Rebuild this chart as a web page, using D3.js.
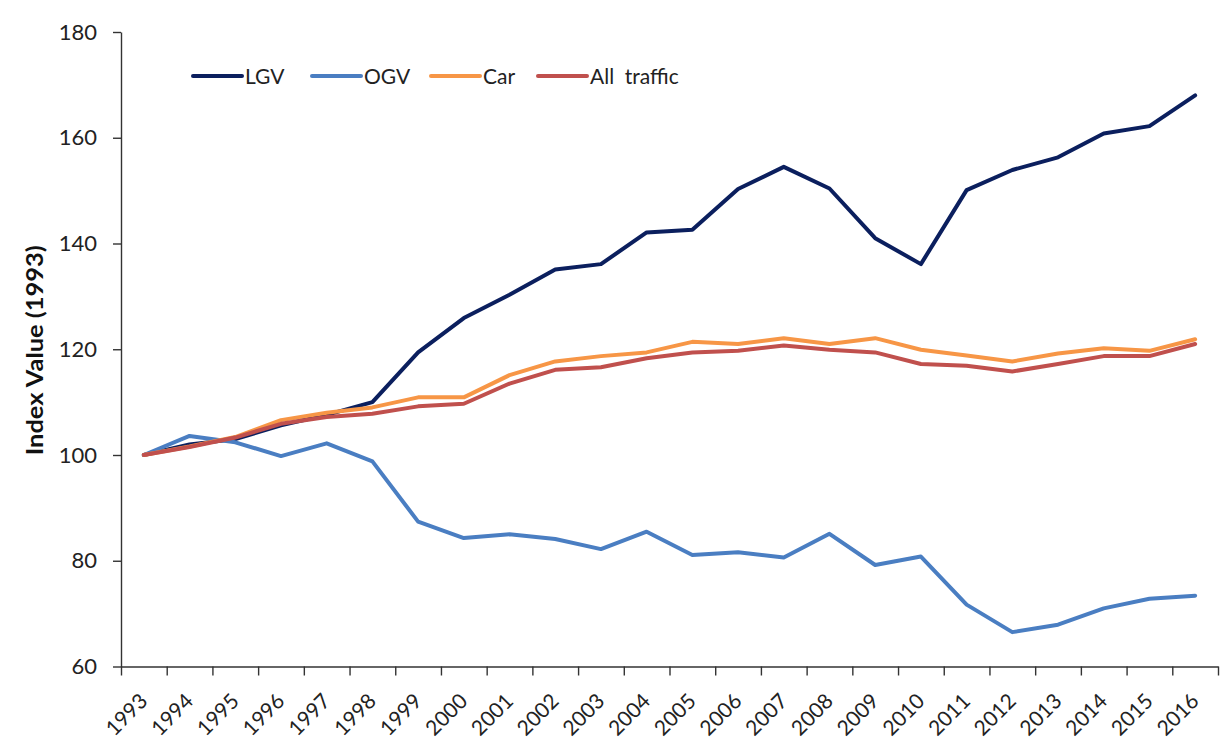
<!DOCTYPE html>
<html>
<head>
<meta charset="utf-8">
<script src="https://cdn.jsdelivr.net/npm/d3@7"></script>
<style>
  html, body { margin: 0; padding: 0; background: #fff; }
  svg { display: block; font-family: Lato, "Open Sans", sans-serif; }
</style>
</head>
<body>
<svg id="chart" width="1230" height="754"></svg>
<script>
// Traffic index by vehicle type, 1993 = 100
const years = ["1993","1994","1995","1996","1997","1998","1999","2000","2001","2002","2003","2004",
               "2005","2006","2007","2008","2009","2010","2011","2012","2013","2014","2015","2016"];

const lgv = [100, 102.0, 103.0, 105.6, 107.6, 110.0, 119.4, 125.9, 130.3, 135.1, 136.1, 142.1,
             142.6, 150.3, 154.5, 150.4, 141.0, 136.1, 150.1, 153.9, 156.3, 160.8, 162.2, 168.0];
const ogv = [100, 103.6, 102.4, 99.8, 102.2, 98.8, 87.4, 84.3, 85.0, 84.1, 82.2, 85.5,
             81.1, 81.6, 80.6, 85.1, 79.2, 80.8, 71.7, 66.5, 67.9, 71.0, 72.8, 73.4];
const car = [100, 101.6, 103.4, 106.6, 108.0, 109.0, 110.9, 110.9, 115.1, 117.7, 118.7, 119.4,
             121.4, 121.0, 122.1, 121.0, 122.1, 119.9, 118.8, 117.7, 119.2, 120.2, 119.7, 121.9];
const allTraffic = [100, 101.5, 103.3, 105.9, 107.2, 107.8, 109.2, 109.7, 113.5, 116.1, 116.6, 118.3,
                    119.4, 119.7, 120.7, 119.9, 119.4, 117.2, 116.9, 115.8, 117.2, 118.7, 118.7, 121.0];

const seriesNames = ["LGV", "OGV", "Car", "All  traffic"];
const seriesColors = ["#0b1f5e", "#4a7ec2", "#f79646", "#c0504d"];
const seriesValues = [lgv, ogv, car, allTraffic];

const yTicks = [60, 80, 100, 120, 140, 160, 180];
const yTitle = "Index Value (1993)";

const svg = d3.select("#chart");
const plotLeft = 121, plotRight = 1218, plotTop = 32, plotBottom = 666.5;
const tickFontSize = 22;
const legendFontSize = 21;

const x = d3.scaleBand().domain(years).range([plotLeft, plotRight]).padding(0);
const xEdges = d3.scaleLinear().domain([0, years.length]).range([plotLeft, plotRight]);
const y = d3.scaleLinear().domain([60, 180]).range([plotBottom, plotTop]);

// Y axis
const yAxis = svg.append("g")
  .attr("transform", `translate(${plotLeft},0)`)
  .call(d3.axisLeft(y).tickValues(yTicks).tickSize(8).tickSizeOuter(0).tickPadding(16));
yAxis.select(".domain").attr("stroke", "#333").attr("stroke-width", 1.4);
yAxis.selectAll(".tick line").attr("stroke", "#333").attr("stroke-width", 1.4);
yAxis.selectAll(".tick text").attr("font-size", tickFontSize).attr("fill", "#222")
  .attr("font-family", "Lato, sans-serif");

// X axis: ticks at category boundaries
const xAxis = svg.append("g")
  .attr("transform", `translate(0,${plotBottom})`)
  .call(d3.axisBottom(xEdges).tickValues(d3.range(years.length + 1)).tickFormat("")
        .tickSize(9).tickSizeOuter(0));
xAxis.select(".domain").attr("stroke", "#333").attr("stroke-width", 1.4);
xAxis.selectAll(".tick line").attr("stroke", "#333").attr("stroke-width", 1.4);

// X labels, rotated
const xLabels = svg.append("g")
  .attr("transform", `translate(0,${plotBottom})`)
  .call(d3.axisBottom(x).tickSize(0).tickPadding(0));
xLabels.select(".domain").remove();
xLabels.selectAll(".tick text")
  .attr("font-size", tickFontSize - 1).attr("fill", "#222")
  .attr("font-family", "Lato, sans-serif")
  .attr("text-anchor", "end")
  .attr("dy", 0)
  .attr("transform", "translate(5,36) rotate(-45)");

// Y axis title
svg.append("text")
  .attr("transform", `translate(43,${(plotTop + plotBottom) / 2 + 1}) rotate(-90)`)
  .attr("text-anchor", "middle")
  .attr("font-size", 22)
  .attr("font-weight", "bold")
  .attr("fill", "#111")
  .attr("textLength", 210)
  .attr("lengthAdjust", "spacingAndGlyphs")
  .text(yTitle);

// Series lines
const line = d3.line()
  .x((d, i) => x(years[i]) + x.bandwidth() / 2)
  .y(d => y(d));

seriesValues.forEach((vals, k) => {
  svg.append("path")
    .datum(vals)
    .attr("fill", "none")
    .attr("stroke", seriesColors[k])
    .attr("stroke-width", 4)
    .attr("stroke-linejoin", "round")
    .attr("stroke-linecap", "round")
    .attr("d", line);
});

// Legend
const legendX = [193, 312, 431, 538];
const legend = svg.append("g");
seriesNames.forEach((name, k) => {
  const g = legend.append("g").attr("transform", `translate(${legendX[k]},76)`);
  g.append("line")
    .attr("x1", 0).attr("x2", 49).attr("y1", 0).attr("y2", 0)
    .attr("stroke", seriesColors[k]).attr("stroke-width", 4).attr("stroke-linecap", "round");
  g.append("text")
    .attr("x", 52).attr("y", 8)
    .attr("font-size", legendFontSize).attr("fill", "#222")
    .style("white-space", "pre")
    .text(name);
});
</script>
</body>
</html>
